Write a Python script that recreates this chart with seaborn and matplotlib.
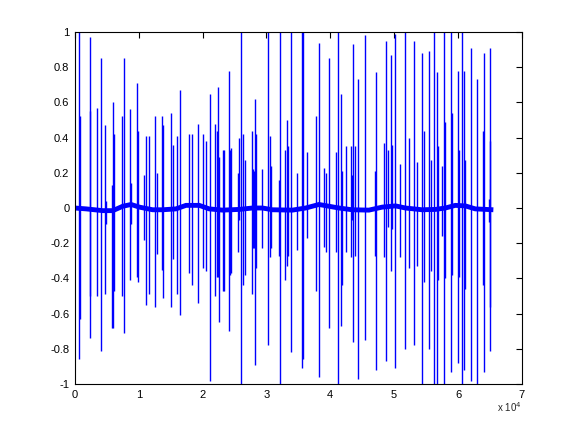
import matplotlib
matplotlib.use("Agg")
import matplotlib.pyplot as plt
import seaborn as sns
import pandas as pd

# Spike events: sample index, upper peak, lower peak
spike_x = [625, 729, 2292, 2396, 3490, 4115, 4740, 4896, 5833, 5990, 6146, 7396, 7656,
           8646, 8802, 9740, 9844, 10781, 11146, 11615, 12552, 12865, 13646, 13802,
           15052, 15365, 15990, 16458, 17865, 18333, 19271, 20052, 20469, 21146, 21927,
           22188, 22344, 22500, 23177, 23333, 24115, 24271, 24427, 25521, 25677, 25990,
           26302, 26615, 27708, 27917,
           28021, 28177, 28333, 29271, 30208, 30521, 30677, 31979, 32135, 32865, 33177,
           33333, 33802, 34740, 35521, 35677, 36354, 37708, 38177, 38958, 39271, 39740,
           40833, 41146, 41615, 41771,
           42396, 43177, 43333, 43490, 43802, 44271, 45365, 46927, 47083, 48333, 48802,
           49115, 49583, 49740, 50208, 50990, 51771, 52396, 53177, 53646, 54427, 54740,
           55521, 55833,
           56302, 56771, 56927, 57552, 57865, 58021, 58958, 59115, 60052, 60208, 60677,
           60990, 61146, 62083, 63021, 63958, 64115, 64896, 64950, 65052]
spike_top = [1.0, 0.52, 0.55, 0.97, 0.57, 0.85, 0.47, 0.04, 0.13, 0.60, 0.42, 0.52, 0.85,
             0.56, 0.14, 0.71, 0.44, 0.19, 0.41, 0.41, 0.52, 0.20, 0.52, 0.47,
             0.54, 0.36, 0.41, 0.67, 0.42, 0.42, 0.48, 0.42, 0.38, 0.65, 0.48,
             0.44, 0.69, 0.29, 0.33, 0.33, 0.78, 0.33, 0.34, 0.20, 0.40, 1.0,
             0.42, 0.27, 0.44, 0.22,
             0.21, 0.62, 0.42, 0.22, 1.0, 0.41, 0.24, 0.16, 1.0, 0.33, 0.50,
             0.35, 1.0, 0.20, 1.0, 1.0, 0.32, 0.52, 0.94, 0.23, 0.20, 0.85,
             0.32, 1.0, 0.65, 0.21,
             0.35, 0.35, 0.19, 0.93, 0.35, 0.73, 0.98, 0.21, 0.77, 0.37, 0.95,
             0.33, 0.87, 0.36, 0.99, 0.25, 1.0, 0.40, 0.95, 0.26, 0.88, 0.44,
             0.89, 0.27,
             1.0, 0.77, 0.35, 0.24, 1.0, 0.49, 1.0, 0.54, 0.78, 0.33, 1.0,
             0.78, 0.27, 0.91, 0.73, 0.44, 0.88, 0.05, 0.38, 0.91]
spike_bottom = [-0.86, -0.63, -0.50, -0.74, -0.50, -0.81, -0.49, -0.09, -0.68, -0.68, -0.47, -0.50, -0.71,
                -0.41, -0.09, -0.39, -0.42, -0.18, -0.55, -0.49, -0.56, -0.26, -0.35, -0.51,
                -0.56, -0.29, -0.49, -0.61, -0.37, -0.44, -0.54, -0.34, -0.36, -0.98, -0.50,
                -0.39, -0.39, -0.65, -0.47, -0.47, -0.70, -0.38, -0.37, -0.25, -0.07, -1.0,
                -0.44, -0.38, -0.49, -0.23,
                -0.23, -0.89, -0.34, -0.23, -0.78, -0.28, -0.23, -0.27, -1.0, -0.41, -0.33,
                -0.27, -0.82, -0.24, -0.91, -0.86, -0.17, -0.47, -0.96, -0.22, -0.25, -0.68,
                -0.25, -1.0, -0.67, -0.44,
                -0.25, -0.28, -0.07, -0.76, -0.27, -0.97, -0.75, -0.27, -0.92, -0.28, -0.87,
                -0.11, -0.36, -0.12, -0.91, -0.28, -0.80, -0.34, -0.78, -0.33, -1.0, -0.42,
                -0.80, -0.36,
                -1.0, -1.0, -0.41, -0.16, -1.0, -0.40, -0.93, -0.38, -0.88, -0.39, -1.0,
                -0.92, -0.46, -0.98, -1.0, -0.44, -0.93, -0.08, -0.56, -0.81]

# Slowly varying baseline
baseline_x = [0, 1771, 4375, 5937, 7500, 8802, 10104, 12187, 13750, 15833, 17396, 19479,
              21042, 23125, 25729, 27812, 29375, 30937, 34062, 36146, 38229, 39792, 41354,
              43437, 46042, 48125, 50208, 51771, 54375, 56458, 58020, 59583, 61146, 62708,
              65536]
baseline_y = [0.0, -0.005, -0.015, -0.015, 0.01, 0.02, 0.005, -0.01, -0.01, -0.005, 0.015,
              0.015, -0.005, -0.012, -0.008, 0.0, 0.0, -0.01, -0.012, 0.0, 0.02, 0.01, 0.0,
              -0.01, -0.012, 0.005, 0.012, 0.0, -0.01, -0.008, 0.0, 0.015, 0.012, -0.005,
              -0.01]

x_ticks = [0, 10000, 20000, 30000, 40000, 50000, 60000, 70000]
x_tick_labels = ["0", "1", "2", "3", "4", "5", "6", "7"]
y_ticks = [-1, -0.8, -0.6, -0.4, -0.2, 0, 0.2, 0.4, 0.6, 0.8, 1]
y_tick_labels = ["-1", "-0.8", "-0.6", "-0.4", "-0.2", "0", "0.2", "0.4", "0.6", "0.8", "1"]

sns.set_style("white")
plt.rcParams["font.family"] = ["Liberation Sans", "DejaVu Sans"]

fig = plt.figure(figsize=(5.76, 4.32), dpi=100)
ax = fig.add_axes([0.13, 0.111, 0.776, 0.815])

blue = "#0000ff"
ax.vlines(spike_x, spike_bottom, spike_top, colors=blue, linewidth=1.0)
base = pd.DataFrame({"x": baseline_x, "y": baseline_y})
sns.lineplot(data=base, x="x", y="y", ax=ax, color=blue, linewidth=3.5,
             solid_capstyle="butt", solid_joinstyle="miter")

ax.set_xlim(0, 70000)
ax.set_ylim(-1, 1)
ax.set_xticks(x_ticks)
ax.set_xticklabels(x_tick_labels)
ax.set_yticks(y_ticks)
ax.set_yticklabels(y_tick_labels)
ax.set_xlabel("")
ax.set_ylabel("")
ax.tick_params(direction="in", length=4, width=0.8, labelsize=8, top=True, right=True,
               color="black", labelcolor="black", pad=4)
for s in ax.spines.values():
    s.set_visible(True)
    s.set_color("black")
    s.set_linewidth(0.8)

ax.text(1.0, -0.045, "x 10$^4$", transform=ax.transAxes, ha="right", va="top", fontsize=7)

fig.savefig("out.png", dpi=100)
